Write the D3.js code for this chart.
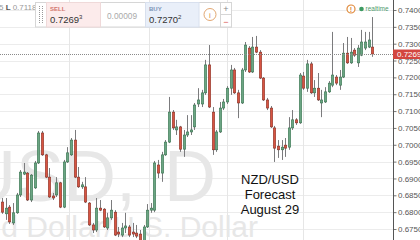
<!DOCTYPE html>
<html><head><meta charset="utf-8">
<script src="https://cdn.jsdelivr.net/npm/d3@7"></script>
<style>body{margin:0;background:#fff}svg{display:block}</style>
</head><body>
<svg id="c" width="420" height="240"></svg>
<script>
// ---- data (NZD/USD daily candles) ----
const opens = [0.6830,0.6795,0.6815,0.6768,0.6798,0.6851,0.6913,0.6916,0.6836,0.6872,
0.6946,0.7035,0.6970,0.6904,0.6848,0.6851,0.6887,0.6815,0.6949,0.6970,
0.7014,0.6904,0.6875,0.6875,0.6827,0.6762,0.6747,0.6812,0.6809,0.6753,
0.6783,0.6800,0.6741,0.6732,0.6753,0.6756,0.6741,0.6738,0.6735,0.6714,
0.6756,0.6806,0.6806,0.6940,0.6916,0.6970,0.7008,0.7097,0.7044,0.7053,
0.6987,0.7029,0.7038,0.7053,0.7121,0.7121,0.7154,0.7237,0.7097,0.6985,
0.7038,0.7109,0.7127,0.7168,0.7222,0.7154,0.7124,0.7222,0.7287,0.7216,
0.7290,0.7275,0.7198,0.7133,0.7109,0.7050,0.6996,0.6985,0.6999,0.6993,
0.7050,0.7074,0.7065,0.7204,0.7168,0.7240,0.7154,0.7168,0.7124,0.7127,
0.7157,0.7177,0.7201,0.7177,0.7201,0.7272,0.7243,0.7281,0.7243,0.7266,
0.7287,0.7290,0.7290];
const highs = [0.6842,0.6842,0.6821,0.6827,0.6857,0.6925,0.6946,0.6919,0.6913,0.6952,
0.7041,0.7041,0.6973,0.6931,0.6857,0.6904,0.6890,0.6955,0.6993,0.7020,
0.7044,0.6934,0.6890,0.6904,0.6830,0.6768,0.6842,0.6836,0.6812,0.6798,
0.6836,0.6806,0.6756,0.6768,0.6798,0.6762,0.6768,0.6762,0.6747,0.6762,
0.6824,0.6827,0.6952,0.6955,0.6979,0.7014,0.7142,0.7103,0.7074,0.7056,
0.7044,0.7088,0.7088,0.7124,0.7168,0.7163,0.7252,0.7296,0.7112,0.7044,
0.7127,0.7136,0.7174,0.7237,0.7228,0.7163,0.7228,0.7305,0.7293,0.7320,
0.7323,0.7281,0.7201,0.7139,0.7115,0.7056,0.7014,0.7014,0.7020,0.7082,
0.7103,0.7079,0.7213,0.7216,0.7252,0.7246,0.7192,0.7213,0.7163,0.7171,
0.7189,0.7335,0.7207,0.7222,0.7302,0.7320,0.7317,0.7287,0.7296,0.7341,
0.7335,0.7335,0.7379];
const lows = [0.6795,0.6777,0.6765,0.6762,0.6795,0.6845,0.6910,0.6833,0.6830,0.6869,
0.6943,0.6967,0.6901,0.6842,0.6836,0.6845,0.6812,0.6812,0.6946,0.6967,
0.6901,0.6872,0.6869,0.6827,0.6759,0.6738,0.6741,0.6803,0.6753,0.6747,
0.6777,0.6729,0.6726,0.6726,0.6738,0.6726,0.6726,0.6723,0.6706,0.6706,
0.6753,0.6798,0.6800,0.6901,0.6890,0.6967,0.7005,0.7044,0.7029,0.6979,
0.6964,0.7023,0.7029,0.7044,0.7112,0.7112,0.7148,0.7109,0.6970,0.6979,
0.7035,0.7103,0.7121,0.7148,0.7151,0.7079,0.7121,0.7216,0.7213,0.7213,
0.7272,0.7195,0.7130,0.7103,0.7050,0.6949,0.6961,0.6955,0.6964,0.6985,
0.7044,0.7059,0.7062,0.7163,0.7157,0.7151,0.7142,0.7130,0.7082,0.7124,
0.7154,0.7171,0.7177,0.7163,0.7198,0.7240,0.7240,0.7261,0.7231,0.7263,
0.7281,0.7287,0.7261];
const closes = [0.6800,0.6812,0.6771,0.6798,0.6851,0.6919,0.6919,0.6836,0.6910,0.6946,
0.7035,0.6970,0.6904,0.6845,0.6842,0.6887,0.6815,0.6949,0.6976,0.7014,
0.6904,0.6875,0.6881,0.6830,0.6762,0.6747,0.6812,0.6806,0.6756,0.6783,
0.6806,0.6732,0.6735,0.6753,0.6759,0.6732,0.6735,0.6729,0.6714,0.6756,
0.6806,0.6812,0.6946,0.6916,0.6970,0.7008,0.7097,0.7050,0.7053,0.6987,
0.7029,0.7038,0.7044,0.7118,0.7133,0.7154,0.7237,0.7112,0.6985,0.7038,
0.7109,0.7127,0.7168,0.7222,0.7154,0.7124,0.7222,0.7296,0.7216,0.7290,
0.7275,0.7198,0.7133,0.7109,0.7053,0.6990,0.6985,0.6993,0.6990,0.7050,
0.7074,0.7065,0.7207,0.7168,0.7240,0.7154,0.7168,0.7133,0.7133,0.7157,
0.7183,0.7207,0.7183,0.7201,0.7272,0.7243,0.7275,0.7266,0.7287,0.7305,
0.7305,0.7311,0.72693];
const priceTicks = [0.675,0.68,0.685,0.69,0.695,0.70,0.705,0.71,0.715,0.72,0.725,0.73,0.735,0.74];
const monthGrid = [18.5, 40.5, 62, 83];   // candle positions of month boundaries
const lastPrice = 0.72693;
const sellPrice = "0.7269", sellPip = "3";
const buyPrice = "0.7270", buyPip = "2";
const spread = "0.00009";
const lowLabel = "0.7118";
const titleLines = ["NZD/USD", "Forecast", "August 29"];
const symbolText = "NZDUSD,", intervalText = "D";
const descText = "New Zealand Dollar/U.S. Dollar";

// ---- drawing ----
const W = 420, H = 240, axisX = 393;
const font = '"Liberation Sans", Arial, sans-serif';
const N = closes.length;
const idx = d3.range(N);
const svg = d3.select('#c');
svg.append('rect').attr('width', W).attr('height', H).attr('fill', '#fff');

const y = d3.scaleLinear().domain([0.675, 0.74]).range([229, 10]);
const x = d3.scaleLinear().domain([0, N - 1]).range([2, 372.3]);

// grid
svg.append('g').selectAll('line').data(priceTicks).join('line')
  .attr('x1', 0).attr('x2', axisX)
  .attr('y1', d => Math.round(y(d)) + 0.5).attr('y2', d => Math.round(y(d)) + 0.5)
  .attr('stroke', '#ececec').attr('stroke-width', 1);
svg.append('g').selectAll('line').data(monthGrid).join('line')
  .attr('x1', d => Math.round(x(d)) + 0.5).attr('x2', d => Math.round(x(d)) + 0.5)
  .attr('y1', 0).attr('y2', H)
  .attr('stroke', '#e6e6e6').attr('stroke-width', 1);

// watermark
svg.append('text').attr('x', 136).attr('y', 201).attr('text-anchor', 'end')
  .attr('font-family', font).attr('font-size', 72).attr('fill', '#e7e7e7')
  .text(symbolText);
svg.append('text').attr('x', 164).attr('y', 201)
  .attr('font-family', font).attr('font-size', 72).attr('fill', '#e7e7e7')
  .text(intervalText);
svg.append('text').attr('x', 258).attr('y', 237).attr('text-anchor', 'end')
  .attr('font-family', font).attr('font-size', 30).attr('fill', '#e7e7e7')
  .text(descText);

// candles
const cg = svg.append('g');
const upFill = '#6ba583', upLine = '#2f6b47', dnFill = '#d75442', dnLine = '#7a2a20';
cg.selectAll('line.w').data(idx).join('line').attr('class', 'w')
  .attr('x1', i => Math.round(x(i)) + 0.5).attr('x2', i => Math.round(x(i)) + 0.5)
  .attr('y1', i => y(highs[i])).attr('y2', i => y(lows[i]))
  .attr('stroke', '#7b7b7d').attr('stroke-width', 1);
cg.selectAll('rect.b').data(idx).join('rect').attr('class', 'b')
  .attr('x', i => Math.round(x(i)) - 0.75)
  .attr('width', 2.5)
  .attr('y', i => y(Math.max(opens[i], closes[i])))
  .attr('height', i => Math.max(1, Math.abs(y(opens[i]) - y(closes[i]))))
  .attr('fill', i => closes[i] >= opens[i] ? upFill : dnFill)
  .attr('stroke', i => closes[i] >= opens[i] ? upLine : dnLine)
  .attr('stroke-width', 0.5);

// last price dotted line
svg.append('line').attr('x1', 0).attr('x2', axisX)
  .attr('y1', Math.round(y(lastPrice)) + 0.5).attr('y2', Math.round(y(lastPrice)) + 0.5)
  .attr('stroke', '#8a8a8a').attr('stroke-dasharray', '1,1');

// right price axis
svg.append('rect').attr('x', axisX).attr('y', 0).attr('width', W - axisX).attr('height', H).attr('fill', '#fff');
const axis = d3.axisRight(y).tickValues(priceTicks).tickFormat(d3.format('.5f')).tickSize(3).tickPadding(1.5);
const ag = svg.append('g').attr('transform', `translate(${axisX + 0.5},0)`).call(axis);
ag.select('.domain').remove();
ag.selectAll('text').attr('font-family', font).attr('font-size', 8).attr('fill', '#555');
ag.selectAll('line').attr('stroke', '#777');
svg.append('line').attr('x1', axisX + 0.5).attr('x2', axisX + 0.5).attr('y1', 0).attr('y2', H)
  .attr('stroke', '#555');
const ly = y(lastPrice);
svg.append('rect').attr('x', axisX).attr('y', ly - 4.5).attr('width', W - axisX).attr('height', 9.5)
  .attr('fill', '#d3463f');
svg.append('text').attr('x', 397).attr('y', ly + 3).attr('font-family', font).attr('font-size', 8)
  .attr('fill', '#fff').text(d3.format('.5f')(lastPrice));

// top-left data window fragment
const tl = svg.append('text').attr('x', -1).attr('y', 10).attr('font-family', font).attr('font-size', 8);
tl.append('tspan').attr('fill', '#999').text('5');
tl.append('tspan').attr('fill', '#555').attr('font-weight', 'bold').text(' L ');
tl.append('tspan').attr('fill', '#999').text(lowLabel);

// trading widget
const tw = svg.append('g');
tw.append('rect').attr('x', 35.5).attr('y', 2.5).attr('width', 196).attr('height', 24.5)
  .attr('fill', '#fff').attr('stroke', '#d6d6d6');
for (const gx of [39, 42]) {
  tw.append('line').attr('x1', gx + 0.5).attr('x2', gx + 0.5).attr('y1', 6).attr('y2', 24)
    .attr('stroke', '#999').attr('stroke-dasharray', '1,1');
}
tw.append('rect').attr('x', 46.5).attr('y', 2.5).attr('width', 54).attr('height', 24.5)
  .attr('fill', '#fcebeb').attr('stroke', '#efd9d9');
tw.append('text').attr('x', 50).attr('y', 11).attr('font-family', font).attr('font-size', 6)
  .attr('font-weight', 'bold').attr('fill', '#d2756d').text('SELL');
const st = tw.append('text').attr('x', 50).attr('y', 22.5).attr('font-family', font).attr('font-size', 9.5).attr('fill', '#333');
st.append('tspan').text(sellPrice);
st.append('tspan').attr('font-size', 6).attr('dy', -3.5).text(sellPip);
tw.append('text').attr('x', 107).attr('y', 18.5).attr('font-family', font).attr('font-size', 8.3)
  .attr('fill', '#aaa').text(spread);
tw.append('rect').attr('x', 145.5).attr('y', 2.5).attr('width', 53.5).attr('height', 24.5)
  .attr('fill', '#e9eff9').attr('stroke', '#d8e0ee');
tw.append('text').attr('x', 149).attr('y', 11).attr('font-family', font).attr('font-size', 6)
  .attr('font-weight', 'bold').attr('fill', '#7b93b5').text('BUY');
const bt = tw.append('text').attr('x', 149).attr('y', 22.5).attr('font-family', font).attr('font-size', 9.5).attr('fill', '#333');
bt.append('tspan').text(buyPrice);
bt.append('tspan').attr('font-size', 6).attr('dy', -3.5).text(buyPip);
tw.append('circle').attr('cx', 210).attr('cy', 14.5).attr('r', 6).attr('fill', 'none')
  .attr('stroke', '#e2a772').attr('stroke-width', 1);
tw.append('text').attr('x', 210).attr('y', 17.5).attr('text-anchor', 'middle').attr('font-family', font)
  .attr('font-size', 8).attr('fill', '#d98f4e').text('i');
tw.append('rect').attr('x', 220.5).attr('y', 2.5).attr('width', 11).attr('height', 24.5)
  .attr('fill', '#fff').attr('stroke', '#d6d6d6');
tw.append('line').attr('x1', 220.5).attr('x2', 231.5).attr('y1', 14.5).attr('y2', 14.5).attr('stroke', '#d6d6d6');
tw.append('text').attr('x', 226).attr('y', 12).attr('text-anchor', 'middle').attr('font-family', font)
  .attr('font-size', 9).attr('fill', '#888').text('+');
tw.append('text').attr('x', 226).attr('y', 24.5).attr('text-anchor', 'middle').attr('font-family', font)
  .attr('font-size', 9).attr('fill', '#d9534f').text('−');

// realtime indicator
svg.append('circle').attr('cx', 351).attr('cy', 9).attr('r', 4).attr('fill', '#fff')
  .attr('stroke', '#e0893a').attr('stroke-width', 1.2);
svg.append('text').attr('x', 351).attr('y', 11.6).attr('text-anchor', 'middle').attr('font-family', font)
  .attr('font-size', 7).attr('font-weight', 'bold').attr('fill', '#e0893a').text('!');
svg.append('circle').attr('cx', 361.5).attr('cy', 9).attr('r', 2.3).attr('fill', '#3d9a62');
svg.append('text').attr('x', 365.5).attr('y', 11.3).attr('font-family', font).attr('font-size', 6.5)
  .attr('fill', '#4f9b6c').text('realtime');

// title
svg.append('g').selectAll('text').data(titleLines).join('text')
  .attr('x', 270).attr('y', (d, i) => 183.5 + i * 15).attr('text-anchor', 'middle')
  .attr('font-family', font).attr('font-size', 13).attr('fill', '#111').text(d => d);
</script>
</body></html>
